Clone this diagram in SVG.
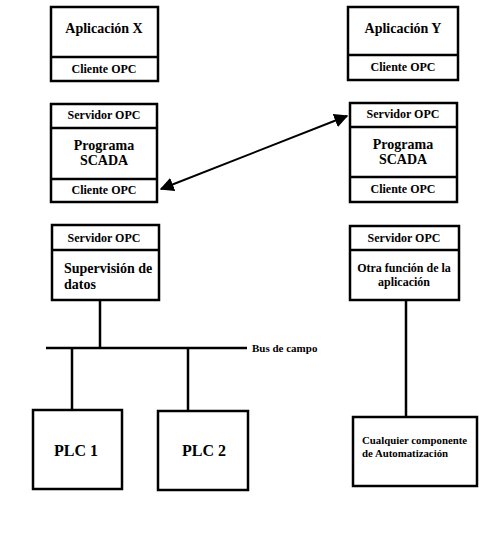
<svg xmlns="http://www.w3.org/2000/svg" width="479" height="549" viewBox="0 0 479 549" font-family="Liberation Serif, 'Times New Roman', serif" font-weight="bold">
<style>
.box{fill:#fff;stroke:#000;stroke-width:2.5}
.div{stroke:#000;stroke-width:2.5}
.ln{stroke:#000;stroke-width:2.5;fill:none}
text{fill:#000}
.t{font-size:14px;text-anchor:middle}
.s{font-size:12px;text-anchor:middle}
.p{font-size:16px;text-anchor:middle}
.l{font-size:11px}
</style>
<defs>
<marker id="ah" viewBox="0 0 10 10" refX="9" refY="5" markerWidth="7" markerHeight="7" orient="auto-start-reverse" markerUnits="strokeWidth">
<path d="M0,0 L10,5 L0,10 z" fill="#000"/>
</marker>
</defs>
<rect width="479" height="549" fill="#fff"/>
<g id="connectors">
<line class="ln" x1="100" y1="300" x2="100" y2="348"/>
<line class="ln" x1="46" y1="348" x2="247" y2="348"/>
<line class="ln" x1="72" y1="348" x2="72" y2="410"/>
<line class="ln" x1="188" y1="348" x2="188" y2="411"/>
<line class="ln" x1="406" y1="300" x2="406" y2="417"/>
<line x1="161" y1="189" x2="347" y2="116" stroke="#000" stroke-width="2" marker-start="url(#ah)" marker-end="url(#ah)"/>
<text class="l" x="252" y="352">Bus de campo</text>
</g>
<g id="appX">
<rect class="box" x="51" y="7" width="107" height="74"/>
<line class="div" x1="51" y1="57" x2="158" y2="57"/>
<text class="t" x="104" y="33">Aplicación X</text>
<text class="s" x="104" y="73">Cliente OPC</text>
</g>
<g id="appY">
<rect class="box" x="348" y="7" width="110" height="73"/>
<line class="div" x1="348" y1="55" x2="458" y2="55"/>
<text class="t" x="403" y="33">Aplicación Y</text>
<text class="s" x="403" y="71">Cliente OPC</text>
</g>
<g id="scadaX">
<rect class="box" x="51" y="104" width="106" height="98"/>
<line class="div" x1="51" y1="128" x2="157" y2="128"/>
<line class="div" x1="51" y1="179" x2="157" y2="179"/>
<text class="s" x="104" y="119">Servidor OPC</text>
<text class="t" x="104" y="150">Programa</text>
<text class="t" x="104" y="165">SCADA</text>
<text class="s" x="104" y="194">Cliente OPC</text>
</g>
<g id="scadaY">
<rect class="box" x="350" y="103" width="107" height="99"/>
<line class="div" x1="350" y1="127" x2="457" y2="127"/>
<line class="div" x1="350" y1="177" x2="457" y2="177"/>
<text class="s" x="403" y="118">Servidor OPC</text>
<text class="t" x="403" y="149">Programa</text>
<text class="t" x="403" y="164">SCADA</text>
<text class="s" x="403" y="193">Cliente OPC</text>
</g>
<g id="supervision">
<rect class="box" x="52" y="225" width="107" height="75"/>
<line class="div" x1="52" y1="250" x2="159" y2="250"/>
<text class="s" x="104" y="242">Servidor OPC</text>
<text x="64" y="273" font-size="14">Supervisión de</text>
<text x="64" y="289" font-size="14">datos</text>
</g>
<g id="otra">
<rect class="box" x="350" y="226" width="109" height="74"/>
<line class="div" x1="350" y1="250" x2="459" y2="250"/>
<text class="s" x="404" y="242">Servidor OPC</text>
<text class="s" x="404" y="272" font-size="12.5">Otra función de la</text>
<text class="s" x="404" y="286" font-size="12.5">aplicación</text>
</g>
<g id="plc1">
<rect class="box" x="33" y="410" width="89" height="79"/>
<text class="p" x="76" y="456">PLC 1</text>
</g>
<g id="plc2">
<rect class="box" x="158" y="411" width="90" height="79"/>
<text class="p" x="204" y="456">PLC 2</text>
</g>
<g id="cualquier">
<rect class="box" x="353" y="417" width="124" height="69"/>
<text x="362" y="444" font-size="10.8">Cualquier componente</text>
<text x="362" y="457" font-size="10.8">de Automatización</text>
</g>
</svg>
